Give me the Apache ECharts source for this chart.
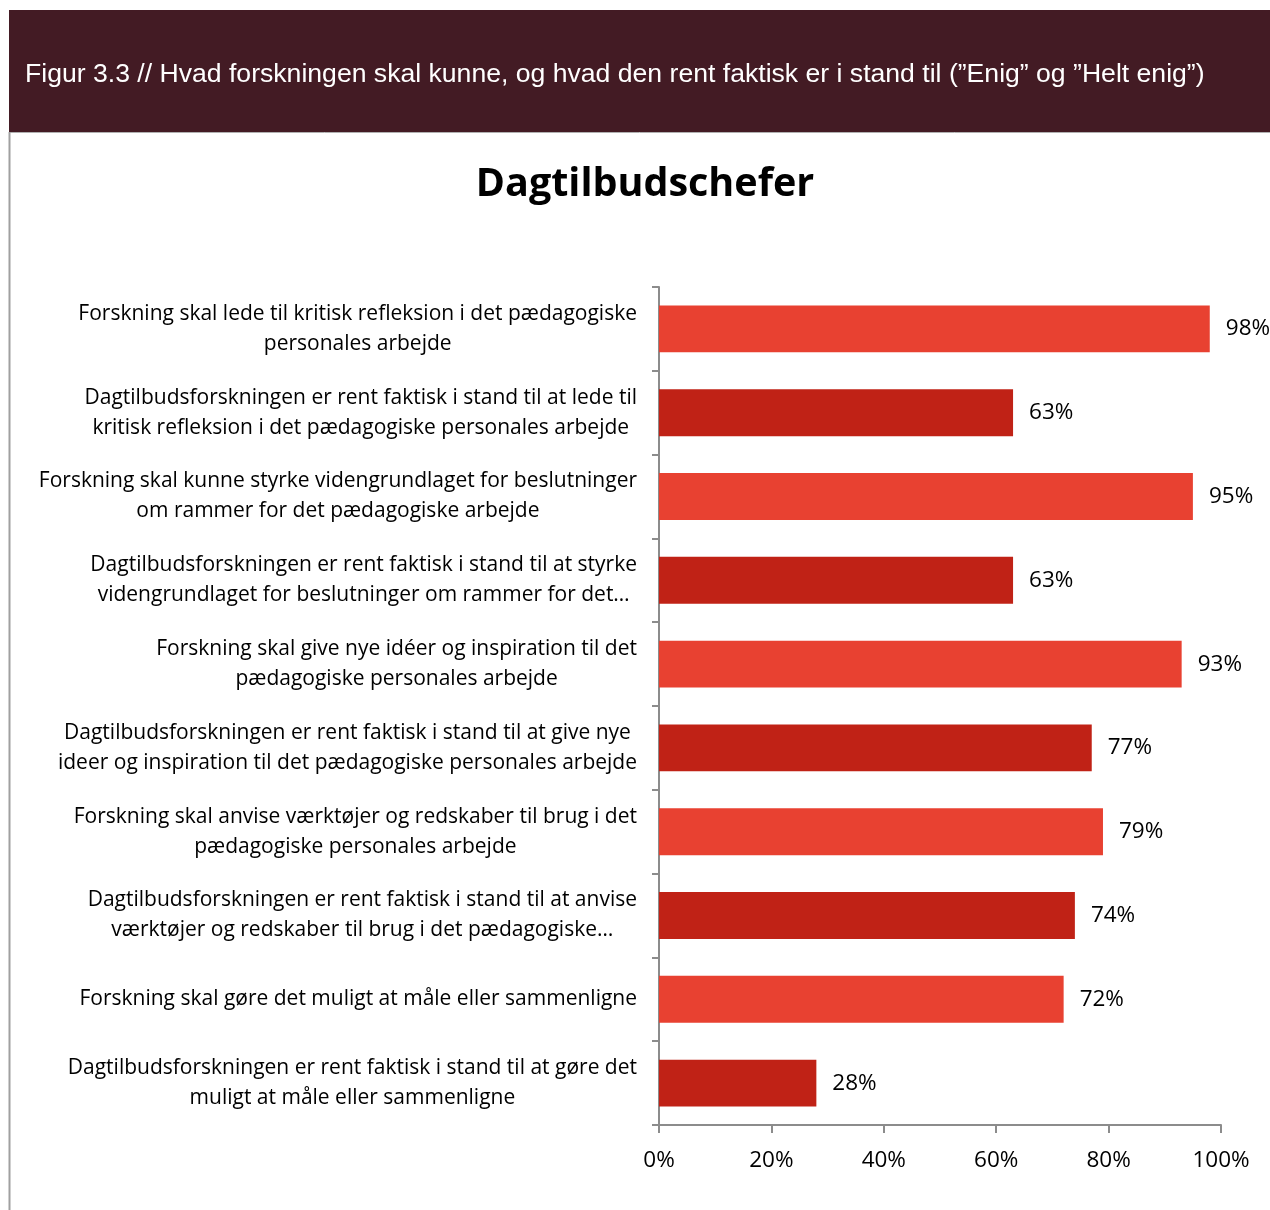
<!DOCTYPE html>
<html>
<head>
<meta charset="utf-8">
<script src="https://cdn.jsdelivr.net/npm/echarts@6/dist/echarts.min.js"></script>
<style>
  html, body { margin: 0; padding: 0; background: #fff; }
  #chart { width: 1270px; height: 1210px; }
</style>
</head>
<body>
<div id="chart"></div>
<script>
const headerText = 'Figur 3.3 // Hvad forskningen skal kunne, og hvad den rent faktisk er i stand til (\u201dEnig\u201d og \u201dHelt enig\u201d)'
const chartTitle = 'Dagtilbudschefer'

const categories = [
  'Forskning skal lede til kritisk refleksion i det pædagogiske\npersonales arbejde',
  'Dagtilbudsforskningen er rent faktisk i stand til at lede til\nkritisk refleksion i det pædagogiske personales arbejde',
  'Forskning skal kunne styrke videngrundlaget for beslutninger\nom rammer for det pædagogiske arbejde',
  'Dagtilbudsforskningen er rent faktisk i stand til at styrke\nvidengrundlaget for beslutninger om rammer for det…',
  'Forskning skal give nye idéer og inspiration til det\npædagogiske personales arbejde',
  'Dagtilbudsforskningen er rent faktisk i stand til at give nye\nideer og inspiration til det pædagogiske personales arbejde',
  'Forskning skal anvise værktøjer og redskaber til brug i det\npædagogiske personales arbejde',
  'Dagtilbudsforskningen er rent faktisk i stand til at anvise\nværktøjer og redskaber til brug i det pædagogiske…',
  'Forskning skal gøre det muligt at måle eller sammenligne',
  'Dagtilbudsforskningen er rent faktisk i stand til at gøre det\nmuligt at måle eller sammenligne'
]
const values = [98, 63, 95, 63, 93, 77, 79, 74, 72, 28]
const barColors = ['#E84131', '#C02216']

const chart = echarts.init(document.getElementById('chart'))

chart.setOption({
  animation: false,
  textStyle: { fontFamily: 'Open Sans' },
  title: {
    text: chartTitle,
    left: 640,
    top: 160,
    textAlign: 'center',
    textStyle: { fontSize: 39.5, fontWeight: 'bold', color: '#000', fontFamily: 'Open Sans' }
  },
  graphic: [
    { type: 'rect', shape: { x: 9, y: 10, width: 1261, height: 122 }, style: { fill: '#431B24' } },
    { type: 'line', shape: { x1: 9, y1: 132.5, x2: 1270, y2: 132.5 }, style: { stroke: '#b0b0b0', lineWidth: 1 } },
    { type: 'line', shape: { x1: 9.5, y1: 132, x2: 9.5, y2: 1210 }, style: { stroke: '#a0a0a0', lineWidth: 2 } },
    {
      type: 'text', x: 25, y: 75,
      style: { text: headerText, fill: '#fff', font: '26.6px "Liberation Sans", Arial', textVerticalAlign: 'middle' }
    }
  ],
  grid: { left: 659, right: 49, top: 287, bottom: 85, containLabel: false },
  xAxis: {
    type: 'value',
    min: 0, max: 100, interval: 20,
    axisLine: { show: true, lineStyle: { color: '#8c8c8c', width: 2 } },
    axisTick: { show: true, length: 8, lineStyle: { color: '#8c8c8c', width: 2 } },
    splitLine: { show: false },
    axisLabel: { formatter: '{value}%', fontSize: 22.5, color: '#000', margin: 24, fontFamily: 'Open Sans' }
  },
  yAxis: {
    type: 'category',
    inverse: true,
    data: categories,
    axisLine: { show: true, lineStyle: { color: '#8c8c8c', width: 2 } },
    axisTick: { show: true, length: 7, lineStyle: { color: '#8c8c8c', width: 2 } },
    axisLabel: {
      margin: 22,
      align: 'right',
      formatter: v => v.split('\n').map(l => '{c|' + l + '}').join('\n'),
      rich: {
        c: { align: 'center', fontSize: 21, lineHeight: 30, color: '#000', fontFamily: 'Open Sans' }
      }
    }
  },
  series: [{
    type: 'bar',
    data: values.map((v, i) => ({ value: v, itemStyle: { color: barColors[i % 2] } })),
    barWidth: '56%',
    label: {
      show: true, position: 'right', distance: 16,
      formatter: '{c}%', fontSize: 22.5, color: '#000', fontFamily: 'Open Sans'
    }
  }]
})
</script>
</body>
</html>
